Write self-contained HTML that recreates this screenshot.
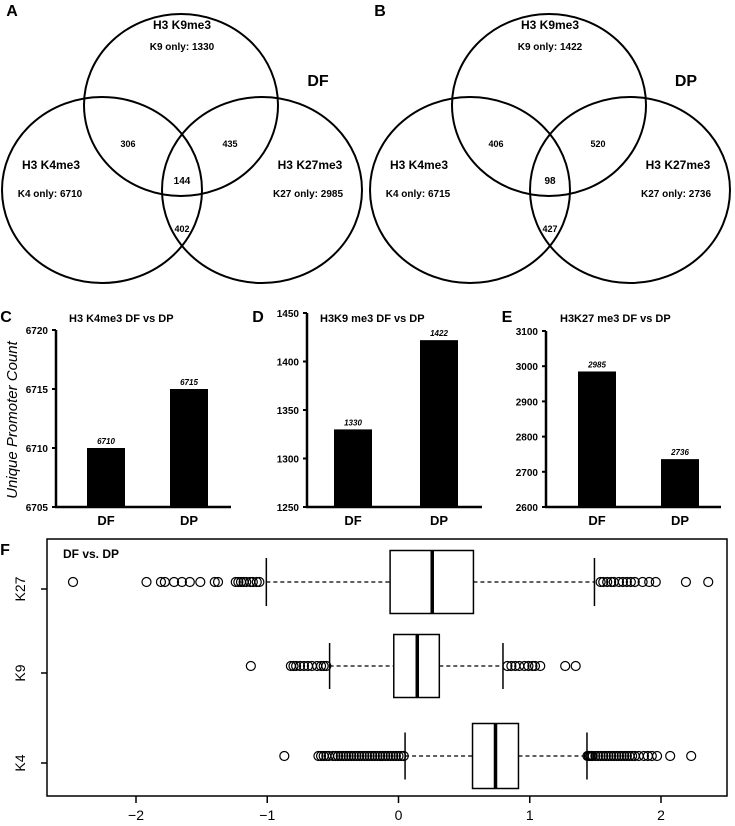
<!DOCTYPE html>
<html><head><meta charset="utf-8"><style>
body{margin:0;background:#fff;}
svg{display:block;font-family:"Liberation Sans",Arial,sans-serif;}
text{font-weight:bold;fill:#000;}
</style></head><body>
<svg id="s" width="735" height="826" viewBox="0 0 735 826"></svg>
<script>
// ---- Venn data ----
const vennSets = ['DF','DP'];
const k9Only = [1330,1422];
const k4Only = [6710,6715];
const k27Only = [2985,2736];
const k4k9 = [306,406];
const k9k27 = [435,520];
const allThree = [144,98];
const k4k27 = [402,427];
// ---- Bar chart data ----
const barCats = ['DF','DP'];
const k4Vals = [6710,6715];
const k9Vals = [1330,1422];
const k27Vals = [2985,2736];
const k4Ticks = [6705,6710,6715,6720];
const k9Ticks = [1250,1300,1350,1400,1450];
const k27Ticks = [2600,2700,2800,2900,3000,3100];
// ---- Boxplot data ----
const boxGroups = ['K27','K9','K4'];
const boxQ1 = [-0.064,-0.036,0.564];
const boxMed = [0.257,0.143,0.739];
const boxQ3 = [0.571,0.311,0.914];
const whiskLo = [-1.007,-0.525,0.05];
const whiskHi = [1.493,0.796,1.436];
const outK27 = [-2.48,-1.92,-1.81,-1.78,-1.71,-1.65,-1.59,-1.51,-1.40,-1.375,-1.24,-1.22,-1.2,-1.18,-1.16,-1.13,-1.11,-1.08,-1.06,1.54,1.56,1.59,1.62,1.64,1.68,1.71,1.74,1.77,1.80,1.86,1.91,1.96,2.19,2.36];
const outK9 = [-1.125,-0.82,-0.80,-0.78,-0.75,-0.72,-0.69,-0.66,-0.62,-0.59,-0.57,-0.55,0.83,0.86,0.89,0.92,0.96,0.99,1.02,1.04,1.08,1.27,1.35];
const outK4 = [-0.87,-0.61,-0.59,-0.57,-0.55,-0.53,-0.5,-0.48,-0.46,-0.44,-0.42,-0.4,-0.38,-0.36,-0.34,-0.32,-0.3,-0.28,-0.26,-0.24,-0.22,-0.2,-0.18,-0.16,-0.14,-0.12,-0.1,-0.08,-0.06,-0.04,-0.02,0,0.02,0.04,1.44,1.45,1.46,1.47,1.48,1.5,1.52,1.54,1.56,1.58,1.6,1.62,1.64,1.66,1.68,1.7,1.72,1.74,1.76,1.78,1.8,1.83,1.87,1.9,1.93,1.97,2.07,2.23];
const outliers = [outK27,outK9,outK4];
const xTicks = [-2,-1,0,1,2];

const NS='http://www.w3.org/2000/svg';
const svg=document.getElementById('s');
function el(tag,attrs,parent){const e=document.createElementNS(NS,tag);for(const k in attrs)e.setAttribute(k,attrs[k]);(parent||svg).appendChild(e);return e;}
function txt(x,y,s,size,anchor,extra){const t=el('text',Object.assign({x:x,y:y,'font-size':size,'text-anchor':anchor||'middle'},extra||{}));t.textContent=s;return t;}

// ---- Venns ----
vennSets.forEach((name,i)=>{
  const ox=i*368;
  const g=el('g',{});
  
  
  const circ=[[ox+181,105,97,91],[ox+102,190,100,93],[ox+262,190,100,93]];
  circ.forEach(c=>{const e=el('ellipse',{cx:c[0],cy:c[1],rx:c[2],ry:c[3],fill:'none',stroke:'#000','stroke-width':2},g);
    });
  let t=txt(ox+12,16,i?'B':'A',16,'middle');
  t=txt(ox+182,29,'H3 K9me3',12);
  t=txt(ox+182,50,'K9 only: '+k9Only[i],10);
  t=txt(ox+318,86,name,16);
  t=txt(ox+51,169,'H3 K4me3',12);
  t=txt(ox+50,197,'K4 only: '+k4Only[i],10);
  t=txt(ox+310,169,'H3 K27me3',12);
  t=txt(ox+308,197,'K27 only: '+k27Only[i],10);
  t=txt(ox+128,147,k4k9[i],9);
  t=txt(ox+230,147,k9k27[i],9);
  t=txt(ox+182,184,allThree[i],10);
  t=txt(ox+182,232,k4k27[i],9);
});

// ---- Bar charts ----
const bars=[
 {L:'C',ax:56,top:330,bot:507,min:6705,max:6720,vals:k4Vals,ticks:k4Ticks,title:'H3 K4me3 DF vs DP',tx:69,lx:6,bx:[87,170]},
 {L:'D',ax:307,top:313,bot:507,min:1250,max:1450,vals:k9Vals,ticks:k9Ticks,title:'H3K9 me3 DF vs DP',tx:320,lx:258,bx:[334,420]},
 {L:'E',ax:546,top:331,bot:507,min:2600,max:3100,vals:k27Vals,ticks:k27Ticks,title:'H3K27 me3 DF vs DP',tx:560,lx:507,bx:[578,661]}];
bars.forEach(b=>{
  const y=v=>b.bot-(v-b.min)/(b.max-b.min)*(b.bot-b.top);
  let t=txt(b.lx,322,b.L,16);
  t=txt(b.tx,322,b.title,11,'start');
  let l=el('line',{x1:b.ax,y1:b.top,x2:b.ax,y2:b.bot+1,stroke:'#000','stroke-width':2.5});
  l=el('line',{x1:b.ax-1,y1:b.bot,x2:b.ax+175,y2:b.bot,stroke:'#000','stroke-width':2.5});
  b.ticks.forEach(v=>{const e=el('line',{x1:b.ax-4,y1:y(v),x2:b.ax,y2:y(v),stroke:'#000','stroke-width':2});
    const tt=txt(b.ax-8,y(v)+4,v,10,'end');});
  barCats.forEach((c,j)=>{
    const r=el('rect',{x:b.bx[j],y:y(b.vals[j]),width:38,height:b.bot-y(b.vals[j]),fill:'#000'});
    
    let tt=txt(b.bx[j]+19,y(b.vals[j])-4,b.vals[j],8,'middle',{'font-style':'italic'});
    tt=txt(b.bx[j]+19,525,c,13);
  });
});
let yl=txt(0,0,'Unique Promoter Count',15,'middle',{transform:'translate(17,420) rotate(-90)','font-style':'italic','style':'font-weight:normal'});


// ---- Boxplot ----
const fx=v=>398.5+v*131.25;
const cy=[582,666,756], bh=[63,63,65], wh=[48,46,47];
let fr=el('rect',{x:47,y:539,width:680,height:257,fill:'none',stroke:'#000','stroke-width':1.5});

let ft=txt(5,555,'F',16);
ft=txt(63,558,'DF vs. DP',12,'start');
xTicks.forEach(v=>{const e=el('line',{x1:fx(v),y1:796,x2:fx(v),y2:803,stroke:'#000','stroke-width':1.5});
  const t=txt(fx(v),820,v===0?'0':(v<0?'\u2212'+(-v):v),14,'middle',{style:'font-weight:normal'});});
boxGroups.forEach((g,i)=>{
  const c=cy[i];
  let e=el('line',{x1:41,y1:c+7,x2:47,y2:c+7,stroke:'#000','stroke-width':1.5});
  let t=txt(0,0,g,14,'middle',{transform:`translate(${25},${c+7}) rotate(-90)`,style:'font-weight:normal'});
  e=el('line',{x1:fx(whiskLo[i]),y1:c,x2:fx(boxQ1[i]),y2:c,stroke:'#000','stroke-width':1.3,'stroke-dasharray':'4,3'});
  e=el('line',{x1:fx(boxQ3[i]),y1:c,x2:fx(whiskHi[i]),y2:c,stroke:'#000','stroke-width':1.3,'stroke-dasharray':'4,3'});
  [whiskLo[i],whiskHi[i]].forEach(v=>{const w=el('line',{x1:fx(v),y1:c-wh[i]/2,x2:fx(v),y2:c+wh[i]/2,stroke:'#000','stroke-width':1.5});});
  e=el('rect',{x:fx(boxQ1[i]),y:c-bh[i]/2,width:fx(boxQ3[i])-fx(boxQ1[i]),height:bh[i],fill:'#fff',stroke:'#000','stroke-width':1.5});
  e=el('line',{x1:fx(boxMed[i]),y1:c-bh[i]/2,x2:fx(boxMed[i]),y2:c+bh[i]/2,stroke:'#000','stroke-width':3.5});
  outliers[i].forEach(v=>{const o=el('circle',{cx:fx(v),cy:c,r:4.5,fill:'none',stroke:'#000','stroke-width':1.2});});
});
</script>
</body></html>
